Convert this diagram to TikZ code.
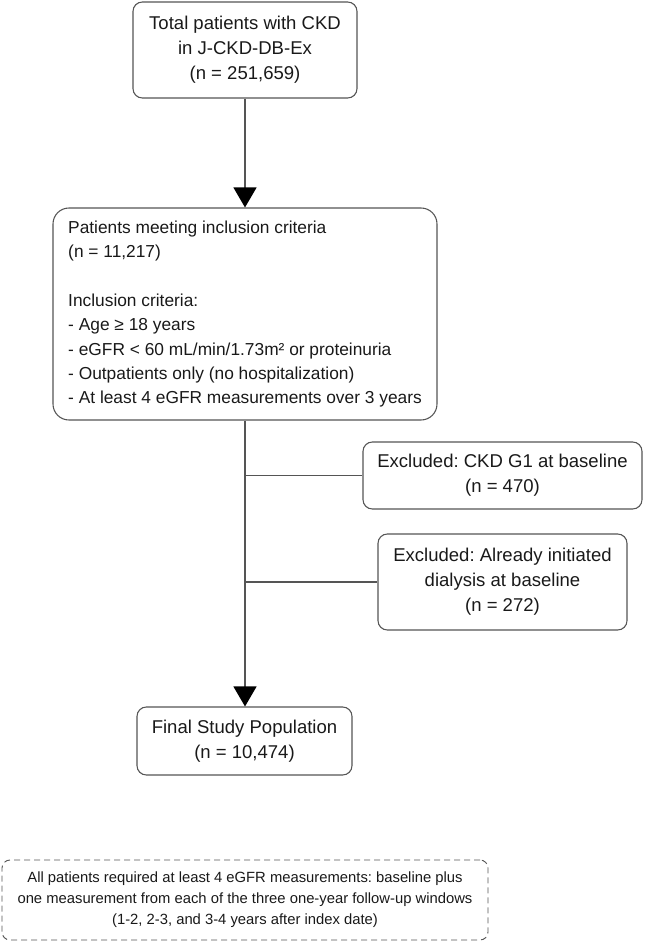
\documentclass[tikz,border=0pt]{standalone}
\usepackage{fontspec}
\setmainfont{Liberation Sans}
\usepackage{tikz}
\usetikzlibrary{arrows.meta, positioning}
\definecolor{flowgray}{RGB}{85,85,85}
\definecolor{flowtext}{RGB}{25,25,25}
\frenchspacing

\begin{document}
\begin{tikzpicture}[
  x=0.75pt, y=-0.75pt,
  box/.style={rectangle, draw=flowgray, line width=0.8pt, rounded corners=7pt, align=center, inner sep=0pt, text=flowtext, font=\fontsize{13.9}{18.75}\selectfont},
  notebox/.style={rectangle, draw=flowgray, line width=0.7pt, dashed, dash pattern=on 4.5pt off 3pt, rounded corners=6pt, align=center, inner sep=0pt, text=flowtext, font=\fontsize{11.1}{15.75}\selectfont},
  arrow/.style={-{Triangle[length=15pt, width=17.25pt, color=black]}, flowgray, line width=0.9pt},
  branch/.style={flowgray, line width=0.9pt}
]
\useasboundingbox (0,0) rectangle (644,944);

\node[box, minimum width=168pt, minimum height=72pt] (total) at (245,50) {Total patients with CKD\\in J-CKD-DB-Ex\\(n = 251,659)};
\node[box, rounded corners=12pt, minimum width=288pt, minimum height=159pt, align=left, font=\fontsize{13}{18.3}\selectfont] (incl) at (245,314) {Patients meeting inclusion criteria\\(n = 11,217)\\[18.3pt]Inclusion criteria:\\- Age ≥ 18 years\\- eGFR < 60 mL/min/1.73m² or proteinuria\\- Outpatients only (no hospitalization)\\- At least 4 eGFR measurements over 3 years};
\node[box, minimum width=209.25pt, minimum height=50.25pt] (exclgone) at (502.5,475.5) {Excluded: CKD G1 at baseline\\(n = 470)};
\node[box, minimum width=186.75pt, minimum height=72pt] (excldial) at (502.5,582) {Excluded: Already initiated\\dialysis at baseline\\(n = 272)};
\node[box, minimum width=161.25pt, minimum height=51pt] (final) at (244.5,741) {Final Study Population\\(n = 10,474)};
\node[notebox, minimum width=364.5pt, minimum height=60pt] (note) at (245,900) {All patients required at least 4 eGFR measurements: baseline plus\\one measurement from each of the three one-year follow-up windows\\(1-2, 2-3, and 3-4 years after index date)};

\draw[arrow] (total) -- (incl);
\draw[arrow] (incl.south) -- (incl.south |- final.north);
\draw[branch] (incl.south |- exclgone.west) -- (exclgone.west);
\draw[branch] (incl.south |- excldial.west) -- (excldial.west);
\end{tikzpicture}
\end{document}
